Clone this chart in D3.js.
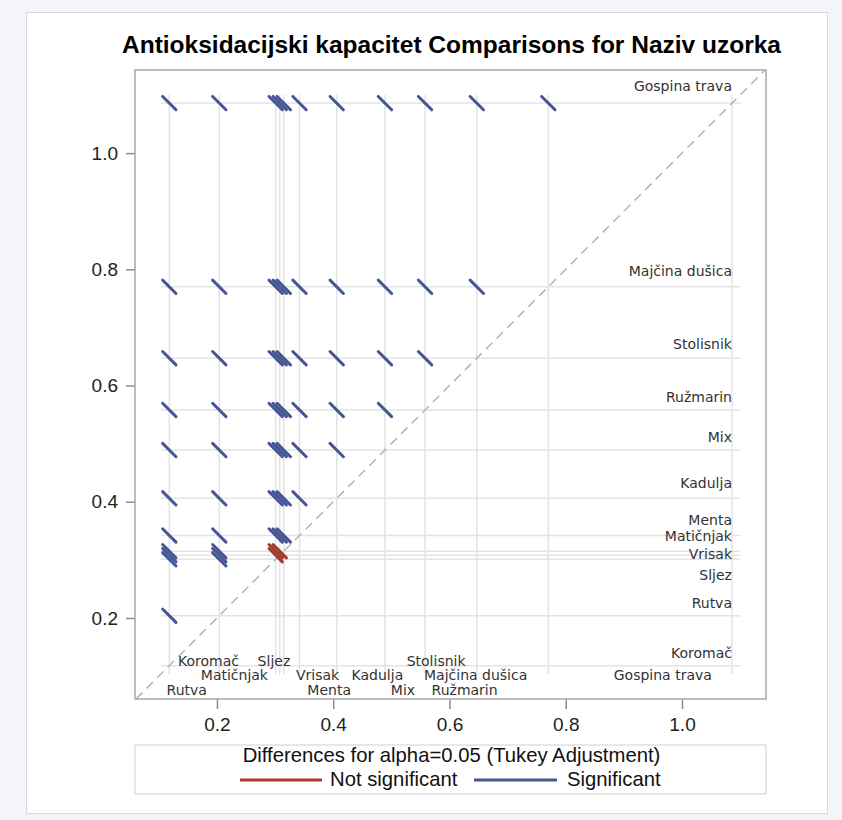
<!DOCTYPE html>
<html>
<head>
<meta charset="utf-8">
<script src="https://cdn.jsdelivr.net/npm/d3@7"></script>
<style>
  body { margin: 0; background: #f3f5f9; }
</style>
</head>
<body>
<div id="chart"></div>
<script>
// LS-means per sample
const groups = ['Rutva', 'Koromač', 'Sljez', 'Vrisak', 'Matičnjak', 'Menta', 'Kadulja',
                'Mix', 'Ružmarin', 'Stolisnik', 'Majčina dušica', 'Gospina trava'];
const means = [0.118, 0.204, 0.301, 0.308, 0.315, 0.342, 0.406, 0.489, 0.558, 0.647, 0.770, 1.086];
const ciHalf = 0.0115;   // half length of each difference segment (data units)
const notSignificant = [['Sljez', 'Vrisak'], ['Sljez', 'Matičnjak'], ['Vrisak', 'Matičnjak']];
const ticks = [0.2, 0.4, 0.6, 0.8, 1.0];
const title = 'Antioksidacijski kapacitet Comparisons for Naziv uzorka';
const legendTitle = 'Differences for alpha=0.05 (Tukey Adjustment)';
const legendItems = ['Not significant', 'Significant'];

// label placement (layout only)
const rightLabelAt = {
  'Gospina trava': 1.115, 'Majčina dušica': 0.7975, 'Stolisnik': 0.671, 'Ružmarin': 0.581,
  'Mix': 0.512, 'Kadulja': 0.433, 'Menta': 0.3685, 'Matičnjak': 0.3415, 'Vrisak': 0.310,
  'Sljez': 0.274, 'Rutva': 0.226, 'Koromač': 0.139
};
const bottomLabelAt = {
  'Koromač': [0.1855, 0], 'Sljez': [0.298, 0], 'Stolisnik': [0.577, 0],
  'Matičnjak': [0.230, 1], 'Vrisak': [0.373, 1], 'Kadulja': [0.476, 1],
  'Majčina dušica': [0.645, 1], 'Gospina trava': [0.967, 1],
  'Rutva': [0.148, 2], 'Menta': [0.393, 2], 'Mix': [0.520, 2], 'Ružmarin': [0.626, 2]
};

const width = 842,
      height = 820,
      plotLeft = 135, plotRight = 766, plotTop = 70, plotBottom = 699;

const blue = '#445694',
      red = '#a23a2e';

const svg = d3.select('#chart')
              .append('svg')
              .attr('width', width)
              .attr('height', height);

// page frame
svg.append('rect')
   .attr('x', 26.5).attr('y', 12.5)
   .attr('width', 801).attr('height', 801)
   .attr('fill', '#fff')
   .attr('stroke', '#d6d9de');

const x = d3.scaleLinear().domain([0.059, 1.1445]).range([plotLeft, plotRight]);
const y = d3.scaleLinear().domain([0.0606, 1.143]).range([plotBottom, plotTop]);

svg.append('text')
   .attr('x', 451.5).attr('y', 53)
   .attr('text-anchor', 'middle')
   .style('font', 'bold 24.5px "Liberation Sans", Arial, sans-serif')
   .attr('fill', '#000')
   .text(title);

const lo = d3.min(means) - 0.0145,
      hi = d3.max(means) + 0.0145;

// reference lines at every mean
const grid = svg.append('g').attr('stroke', '#e3e3e3').attr('stroke-width', 1.5);
grid.selectAll('.h')
    .data(means)
    .enter().append('line')
    .attr('x1', x(lo)).attr('x2', x(hi))
    .attr('y1', d => y(d)).attr('y2', d => y(d));
grid.selectAll('.v')
    .data(means)
    .enter().append('line')
    .attr('y1', y(lo)).attr('y2', y(hi))
    .attr('x1', d => x(d)).attr('x2', d => x(d));

// diagonal
svg.append('line')
   .attr('x1', x(0.0606)).attr('y1', y(0.0606))
   .attr('x2', x(1.143)).attr('y2', y(1.143))
   .attr('stroke', '#b3b3b3')
   .attr('stroke-width', 1.5)
   .attr('stroke-dasharray', '9,6');

// pairwise difference segments
const pairs = [];
for (let i = 0; i < groups.length; i++) {
  for (let j = i + 1; j < groups.length; j++) {
    const ns = notSignificant.some(p => (p[0] === groups[i] && p[1] === groups[j]) ||
                                        (p[1] === groups[i] && p[0] === groups[j]));
    pairs.push({ xm: means[i], ym: means[j], sig: !ns });
  }
}
// blue first, red on top
pairs.sort((a, b) => b.sig - a.sig);

svg.append('g')
   .selectAll('line')
   .data(pairs)
   .enter().append('line')
   .attr('x1', d => x(d.xm - ciHalf)).attr('y1', d => y(d.ym + ciHalf))
   .attr('x2', d => x(d.xm + ciHalf)).attr('y2', d => y(d.ym - ciHalf))
   .attr('stroke', d => d.sig ? blue : red)
   .attr('stroke-width', 3)
   .attr('stroke-linecap', 'round');

// group labels
const labelFont = '14px "DejaVu Sans", Verdana, sans-serif';
svg.append('g')
   .selectAll('text')
   .data(groups)
   .enter().append('text')
   .attr('x', x(d3.max(means)))
   .attr('y', d => y(rightLabelAt[d]))
   .attr('dy', '0.36em')
   .attr('text-anchor', 'end')
   .style('font', labelFont)
   .attr('fill', '#333')
   .text(d => d);

svg.append('g')
   .selectAll('text')
   .data(groups)
   .enter().append('text')
   .attr('x', d => x(bottomLabelAt[d][0]))
   .attr('y', d => plotBottom - 38.5 + bottomLabelAt[d][1] * 14.5)
   .attr('dy', '0.36em')
   .attr('text-anchor', 'middle')
   .style('font', labelFont)
   .attr('fill', '#333')
   .text(d => d);

// axes
const fmt = d3.format('.1f');
const yAxis = svg.append('g')
                 .attr('transform', 'translate(' + plotLeft + ',0)')
                 .call(d3.axisLeft(y).tickValues(ticks).tickFormat(fmt).tickSize(9).tickPadding(8));
const xAxis = svg.append('g')
                 .attr('transform', 'translate(0,' + plotBottom + ')')
                 .call(d3.axisBottom(x).tickValues(ticks).tickFormat(fmt).tickSize(10).tickPadding(9));

[xAxis, yAxis].forEach(function(ax) {
  ax.select('.domain').remove();
  ax.selectAll('.tick line').attr('stroke', '#8c8c8c').attr('stroke-width', 1.5);
  ax.selectAll('.tick text')
    .style('font', '19px "Liberation Sans", Arial, sans-serif')
    .attr('fill', '#222');
});

// plot frame
svg.append('rect')
   .attr('x', plotLeft).attr('y', plotTop)
   .attr('width', plotRight - plotLeft).attr('height', plotBottom - plotTop)
   .attr('fill', 'none')
   .attr('stroke', '#a8a8a8')
   .attr('stroke-width', 1.5);

// legend
const legend = svg.append('g');
legend.append('rect')
      .attr('x', plotLeft).attr('y', 745)
      .attr('width', plotRight - plotLeft).attr('height', 49)
      .attr('fill', '#fff')
      .attr('stroke', '#cfcfcf');

legend.append('text')
      .attr('x', 451.5).attr('y', 762)
      .attr('text-anchor', 'middle')
      .style('font', '20.3px "Liberation Sans", Arial, sans-serif')
      .attr('fill', '#111')
      .text(legendTitle);

const legendX = [[240, 322, 330], [474, 557, 567]];
legendItems.forEach(function(name, i) {
  legend.append('line')
        .attr('x1', legendX[i][0]).attr('x2', legendX[i][1])
        .attr('y1', 780).attr('y2', 780)
        .attr('stroke', i === 0 ? red : blue)
        .attr('stroke-width', 3);
  legend.append('text')
        .attr('x', legendX[i][2]).attr('y', 786)
        .style('font', '20.3px "Liberation Sans", Arial, sans-serif')
        .attr('fill', '#111')
        .text(name);
});
</script>
</body>
</html>
